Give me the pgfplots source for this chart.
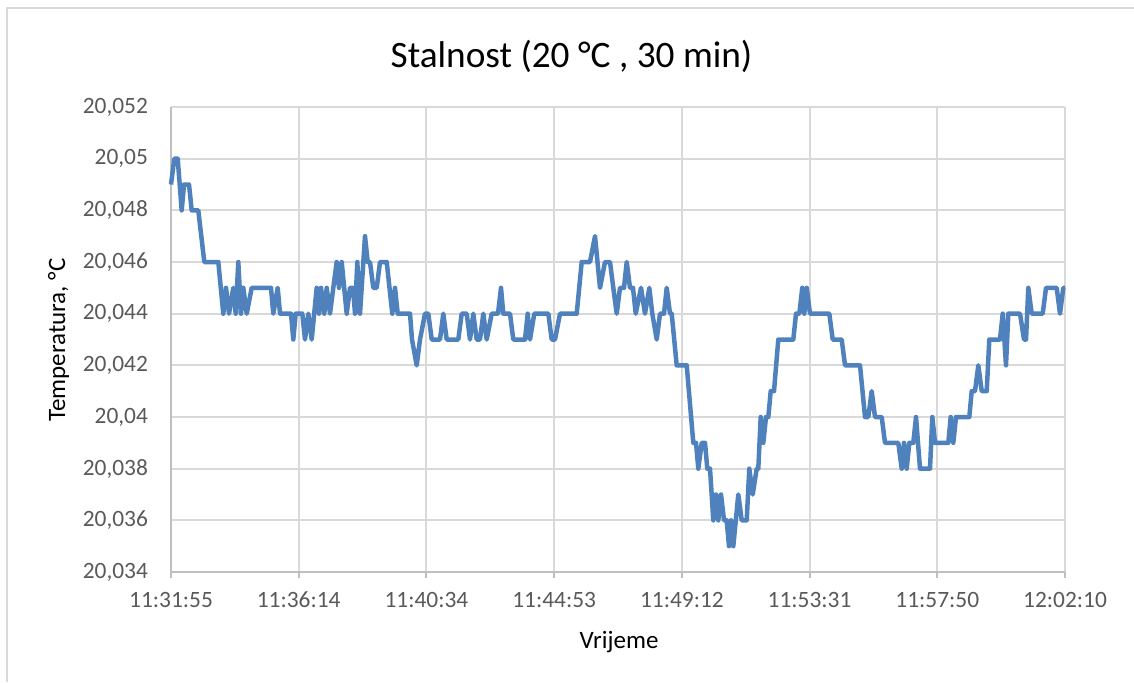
\documentclass[border=0pt]{standalone}
\usepackage{fontspec}
\setmainfont{Carlito}
\usepackage{pgfplots}
\pgfplotsset{compat=1.18}
\definecolor{serie}{HTML}{4F81BD}
\definecolor{gridc}{HTML}{D9D9D9}
\definecolor{axisc}{HTML}{BFBFBF}
\definecolor{ticktext}{HTML}{595959}
\begin{document}
\begin{tikzpicture}[x=0.5pt,y=0.5pt]
\useasboundingbox (0,0) rectangle (1134,682);
\draw[gridc, line width=1pt] (7,0) -- (7,674) -- (1134,674);
\begin{axis}[
  at={(85.5pt,55pt)}, anchor=south west,
  scale only axis, width=447pt, height=232.5pt,
  xmin=0, xmax=894, ymin=20.034, ymax=20.052,
  xtick={0,127.714,255.429,383.143,510.857,638.571,766.286,894},
  xticklabels={11:31:55,11:36:14,11:40:34,11:44:53,11:49:12,11:53:31,11:57:50,12:02:10},
  ytick={20.034,20.036,20.038,20.040,20.042,20.044,20.046,20.048,20.050,20.052},
  yticklabels={{20,034},{20,036},{20,038},{20,04},{20,042},{20,044},{20,046},{20,048},{20,05},{20,052}},
  axis x line*=bottom, axis y line*=left,
  axis line style={axisc, line width=1pt, -},
  grid=major, major grid style={gridc, line width=1pt},
  xtick align=outside, major tick length=3pt,
  xtick style={axisc, line width=1pt},
  ytick style={draw=none},
  tick label style={font=\fontsize{11.7}{14}\selectfont, text=ticktext},
  yticklabel style={xshift=-8pt},
  xticklabel style={yshift=-3.4pt},
  clip=false,
]
\addplot[serie, line width=2.25pt, line join=round, mark=none] table {
x y
0 20.049
3.3 20.050
6.7 20.050
10.7 20.048
13 20.049
18 20.049
20.7 20.048
27.3 20.048
33.3 20.046
47.3 20.046
52.3 20.044
55 20.045
58 20.044
62.3 20.045
64.7 20.044
67.3 20.046
70 20.044
72.3 20.045
75.7 20.044
80.7 20.045
100 20.045
102.3 20.044
106.7 20.045
109 20.044
120 20.044
122.3 20.043
124.7 20.044
131.3 20.044
134 20.043
137.3 20.044
140.7 20.043
145.7 20.045
148 20.044
150 20.045
153.3 20.044
155.7 20.045
159 20.044
162.3 20.045
165.7 20.046
168 20.045
170.7 20.046
175.7 20.044
179 20.045
182 20.045
184 20.044
186.3 20.046
189 20.044
194 20.047
196.7 20.046
199 20.046
202.3 20.045
205.7 20.045
209 20.046
215.7 20.046
221.3 20.044
224 20.045
226.7 20.044
239 20.044
241 20.043
245.7 20.042
249 20.043
254 20.044
257.3 20.044
260.7 20.043
269 20.043
272.3 20.044
275.7 20.043
287.3 20.043
290.7 20.044
295.7 20.044
299 20.043
302.3 20.044
305.7 20.043
309 20.043
312.3 20.044
315.7 20.043
320.7 20.044
327 20.044
330 20.045
332.3 20.044
339 20.044
342.3 20.043
354 20.043
356.7 20.044
359 20.043
363.3 20.044
377.3 20.044
380.7 20.043
384 20.043
389 20.044
405.7 20.044
410.7 20.046
419 20.046
424 20.047
429 20.045
434 20.046
439 20.046
442.3 20.045
445.7 20.044
449 20.045
453 20.045
455.7 20.046
459 20.045
462 20.045
464.7 20.044
470 20.045
474 20.044
478.3 20.045
481.3 20.044
485.7 20.043
489 20.044
493 20.044
495.7 20.045
499 20.044
500.7 20.044
505.7 20.042
515.7 20.042
522.3 20.039
525 20.039
527.3 20.038
530.7 20.039
534 20.039
536.3 20.038
539 20.038
542.3 20.036
545 20.037
547.3 20.036
550 20.037
553 20.036
555.7 20.036
558 20.035
560 20.036
562.3 20.035
567.3 20.037
570.7 20.036
575.7 20.036
578.3 20.038
581.7 20.037
585.7 20.038
587.3 20.038
589.7 20.040
592.3 20.039
595 20.040
597.3 20.040
599.7 20.041
603 20.041
607.3 20.043
622.3 20.043
625 20.044
628.3 20.044
631.3 20.045
633.3 20.044
635.7 20.045
639 20.044
658.3 20.044
661.7 20.043
670.7 20.043
674 20.042
689 20.042
694 20.040
697.3 20.040
700.7 20.041
704 20.040
710.7 20.040
714 20.039
727.3 20.039
730.7 20.038
733 20.039
735.7 20.038
738.3 20.039
742.3 20.039
745 20.040
749 20.038
759 20.038
761.3 20.040
764 20.039
777.3 20.039
779.7 20.040
782.3 20.039
785 20.040
798.3 20.040
800.7 20.041
804 20.041
807.3 20.042
810.7 20.041
815.7 20.041
818.3 20.043
829 20.043
831.7 20.044
835 20.042
837.3 20.044
849 20.044
853 20.043
855 20.043
857.3 20.045
860.7 20.044
871.7 20.044
875 20.045
885.7 20.045
889 20.044
892.3 20.045
894 20.045
};
\end{axis}
\node[font=\fontsize{18.65}{22}\selectfont, anchor=base] at (571.5,615) {Stalnost (20 °C , 30 min)};
\node[font=\fontsize{12.5}{15}\selectfont, anchor=base] at (619,34) {Vrijeme};
\node[font=\fontsize{12.5}{15}\selectfont, anchor=base, rotate=90] at (65,342) {Temperatura, °C};
\end{tikzpicture}
\end{document}
